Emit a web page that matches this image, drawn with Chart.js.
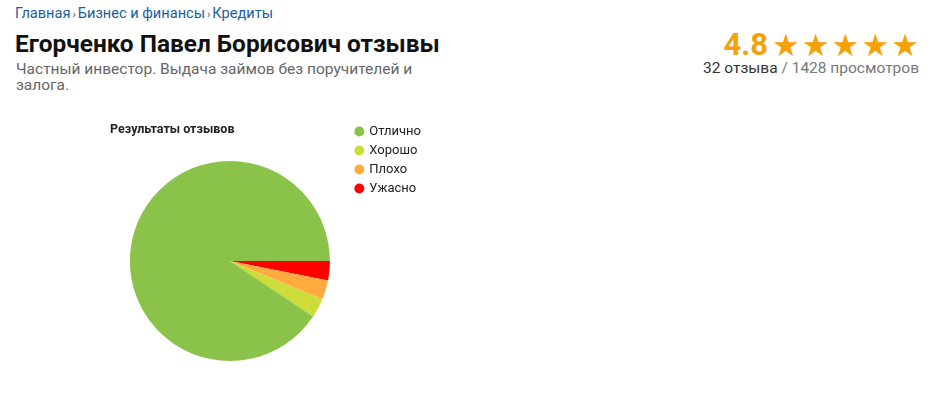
<!DOCTYPE html>
<html>
<head>
<meta charset="utf-8">
<script src="https://cdn.jsdelivr.net/npm/chart.js@4/dist/chart.umd.min.js"></script>
<style>
  body { margin: 0; background: #fff; font-family: Roboto, "Noto Sans", sans-serif; width: 939px; height: 409px; position: relative; overflow: hidden; }
  .crumbs { position: absolute; left: 15px; top: 4px; font-size: 14.6px; color: #1b5e9b; }
  .crumbs .sep { font-size: 11px; margin: 0 2px; }
  h1 { position: absolute; left: 15px; top: 29px; margin: 0; font-size: 24.4px; font-weight: 700; color: #111; }
  .sub { position: absolute; left: 16px; top: 61px; font-size: 15.5px; line-height: 16px; color: #666; }
  .rate { position: absolute; right: 20px; top: 26px; text-align: right; white-space: nowrap; }
  .rate .num { font-size: 31px; font-weight: 700; color: #f5a10a; vertical-align: middle; }
  .rate .stars { font-size: 31px; color: #f5a10a; letter-spacing: 2px; margin-right: -2px; vertical-align: middle; font-family: "DejaVu Sans", sans-serif; }
  .rate .cnt { font-size: 15.5px; color: #333; margin-top: -4px; }
  .rate .cnt span { color: #777; }
  #wrap { position: absolute; left: 81px; top: 119px; width: 350px; height: 242px; }
</style>
</head>
<body>
<div class="crumbs">Главная<span class="sep">›</span>Бизнес и финансы<span class="sep">›</span>Кредиты</div>
<h1>Егорченко Павел Борисович отзывы</h1>
<div class="sub">Частный инвестор. Выдача займов без поручителей и<br>залога.</div>
<div class="rate">
  <span class="num">4.8</span> <span class="stars">★★★★★</span>
  <div class="cnt">32 отзыва <span>/ 1428 просмотров</span></div>
</div>
<div id="wrap"><canvas id="pie"></canvas></div>
<script>
const categories = ['Отлично', 'Хорошо', 'Плохо', 'Ужасно'];
const counts = [29, 1, 1, 1];
const colors = ['#8bc34a', '#cddc39', '#ffab40', '#ff0000'];

// the reference draws the slices counter-clockwise from 3 o'clock,
// so feed them reversed and flip the legend back
const labelsRev = categories.slice().reverse();
const countsRev = counts.slice().reverse();
const colorsRev = colors.slice().reverse();

const ctx = document.getElementById('pie').getContext('2d');
new Chart(ctx, {
  type: 'pie',
  data: {
    labels: labelsRev,
    datasets: [{
      data: countsRev,
      backgroundColor: colorsRev,
      borderWidth: 0
    }]
  },
  options: {
    responsive: true,
    maintainAspectRatio: false,
    animation: false,
    rotation: 90,
    layout: { padding: { left: 29, right: 0, top: 0, bottom: 0 } },
    plugins: {
      tooltip: { enabled: false },
      title: {
        display: true,
        text: 'Результаты отзывов',
        align: 'start',
        fullSize: false,
        color: '#222',
        font: { family: 'Roboto', size: 12.5, weight: 'bold' },
        padding: { top: 3.5, bottom: 23.5 }
      },
      legend: {
        position: 'right',
        align: 'start',
        reverse: true,
        labels: {
          usePointStyle: true,
          pointStyle: 'circle',
          boxWidth: 7,
          boxHeight: 7,
          padding: 6,
          color: '#222',
          font: { family: 'Roboto', size: 13 }
        }
      }
    }
  }
});
</script>
</body>
</html>
